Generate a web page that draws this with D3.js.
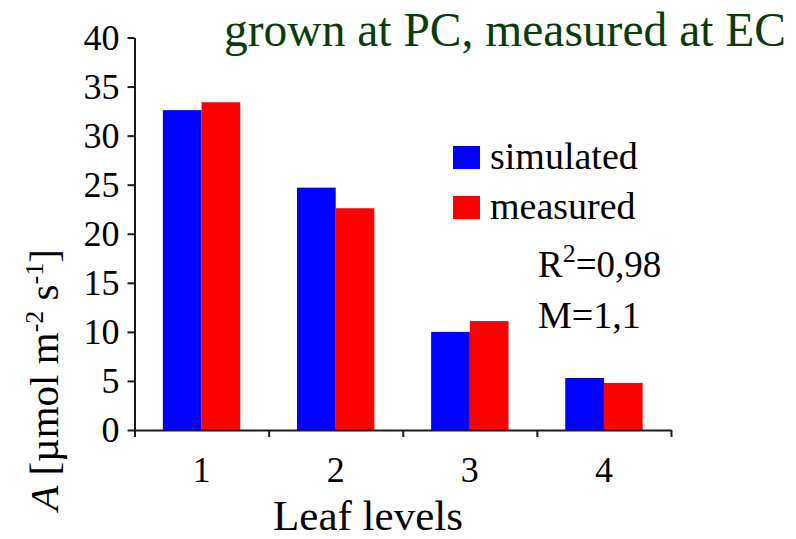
<!DOCTYPE html>
<html>
<head>
<meta charset="utf-8">
<script src="https://cdn.jsdelivr.net/npm/d3@7"></script>
<style>
  html, body { margin: 0; padding: 0; background: #fff; }
  svg { display: block; }
</style>
</head>
<body>
<svg id="chart" width="796" height="539"></svg>
<script>
// Photosynthesis rate per leaf level
const leafLevels = ["1", "2", "3", "4"];
const simulated = [32.6, 24.7, 10.0, 5.3];
const measured = [33.4, 22.6, 11.1, 4.8];
const yTicks = [0, 5, 10, 15, 20, 25, 30, 35, 40];
const seriesNames = ["simulated", "measured"];
const seriesColors = ["#0000ff", "#ff0000"];

const SERIF = "'Liberation Serif', 'Times New Roman', serif";

const svg = d3.select("#chart");

const x = d3.scaleBand()
  .domain(leafLevels)
  .range([134.5, 671])
  .paddingInner(0.423)
  .paddingOuter(0.2115);

const xSub = d3.scaleBand()
  .domain(seriesNames)
  .range([0, x.bandwidth()]);

const y = d3.scaleLinear().domain([0, 40]).range([430, 37.5]);

const color = d3.scaleOrdinal().domain(seriesNames).range(seriesColors);

const rows = leafLevels.map((lv, i) => ({ level: lv, simulated: simulated[i], measured: measured[i] }));

// Bars
const groups = svg.append("g").selectAll("g")
  .data(rows)
  .join("g")
  .attr("transform", d => `translate(${x(d.level)},0)`);

groups.selectAll("rect")
  .data(d => seriesNames.map(k => ({ key: k, value: d[k] })))
  .join("rect")
  .attr("x", d => xSub(d.key))
  .attr("width", xSub.bandwidth())
  .attr("y", d => y(d.value))
  .attr("height", d => y(0) - y(d.value))
  .attr("fill", d => color(d.key));

// Axes
const yAxis = svg.append("g")
  .attr("transform", `translate(${x.range()[0]},0)`)
  .call(d3.axisLeft(y).tickValues(yTicks).tickSize(7).tickPadding(8).tickSizeOuter(0));

const xAxis = svg.append("g")
  .attr("transform", `translate(0,${y(0)})`)
  .call(d3.axisBottom(d3.scaleLinear().domain([0, leafLevels.length]).range(x.range()))
    .ticks(leafLevels.length).tickSize(7).tickFormat("").tickSizeOuter(0));

[yAxis, xAxis].forEach(a => {
  a.select(".domain").attr("stroke", "#1a1a1a").attr("stroke-width", 2);
  a.selectAll(".tick line").attr("stroke", "#1a1a1a").attr("stroke-width", 2);
});

yAxis.attr("font-family", SERIF).attr("font-size", 36);
yAxis.selectAll(".tick text").attr("fill", "#000");

const labels = svg.append("g")
  .style("font-family", SERIF)
  .attr("fill", "#000");

// Category labels
labels.append("g").selectAll("text")
  .data(leafLevels)
  .join("text")
  .attr("x", d => x(d) + x.bandwidth() / 2)
  .attr("y", 482)
  .attr("text-anchor", "middle")
  .attr("font-size", 36)
  .text(d => d);

// Axis titles
labels.append("text")
  .attr("x", 368)
  .attr("y", 530)
  .attr("text-anchor", "middle")
  .attr("font-size", 43)
  .text("Leaf levels");

const yTitle = labels.append("text")
  .attr("transform", "translate(58,380) rotate(-90)")
  .attr("text-anchor", "middle")
  .attr("font-size", 41);
yTitle.append("tspan").attr("font-style", "italic").text("A");
yTitle.append("tspan").text(" [µmol m");
yTitle.append("tspan").attr("font-size", 26).attr("dy", -15).text("-2");
yTitle.append("tspan").attr("dy", 15).text(" s");
yTitle.append("tspan").attr("font-size", 26).attr("dy", -15).text("-1");
yTitle.append("tspan").attr("dy", 15).text("]");

// Title
labels.append("text")
  .attr("x", 786)
  .attr("y", 46)
  .attr("text-anchor", "end")
  .attr("font-size", 47.5)
  .attr("fill", "#0a3c0a")
  .text("grown at PC, measured at EC");

// Legend
const legend = labels.append("g").selectAll("g")
  .data(seriesNames)
  .join("g")
  .attr("transform", (d, i) => `translate(453,${146 + i * 50})`);
legend.append("rect")
  .attr("width", 27)
  .attr("height", 23)
  .attr("fill", d => color(d));
legend.append("text")
  .attr("x", 37)
  .attr("y", 23)
  .attr("font-size", 38)
  .text(d => d);

// Fit statistics
const r2 = labels.append("text").attr("x", 538).attr("y", 277).attr("font-size", 37);
r2.append("tspan").text("R");
r2.append("tspan").attr("font-size", 26).attr("dy", -15).text("2");
r2.append("tspan").attr("dy", 15).text("=0,98");

labels.append("text").attr("x", 538).attr("y", 328).attr("font-size", 38).text("M=1,1");
</script>
</body>
</html>
